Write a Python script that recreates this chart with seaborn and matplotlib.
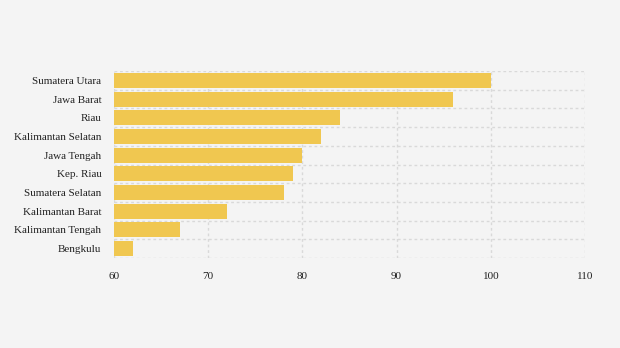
import matplotlib
matplotlib.use("Agg")
import matplotlib.pyplot as plt
import seaborn as sns
import pandas as pd
from matplotlib.ticker import FixedLocator

provinces = ["Sumatera Utara", "Jawa Barat", "Riau", "Kalimantan Selatan", "Jawa Tengah",
             "Kep. Riau", "Sumatera Selatan", "Kalimantan Barat", "Kalimantan Tengah", "Bengkulu"]
values = [100, 96, 84, 82, 80, 79, 78, 72, 67, 62]
x_ticks = [60, 70, 80, 90, 100, 110]

df = pd.DataFrame({"province": provinces, "value": values})

sns.set_theme(style="white")
plt.rcParams["font.family"] = ["Liberation Serif", "DejaVu Serif"]

bg = "#f4f4f4"
fig = plt.figure(figsize=(6.2, 3.48), dpi=100, facecolor=bg)
ax = fig.add_axes([114/620, 1 - 258/348, (585-114)/620, (258-71)/348])
ax.set_facecolor(bg)

sns.barplot(data=df, x="value", y="province", color="#f0c750", saturation=1,
            width=0.8, ax=ax, orient="h", linewidth=0, zorder=2)

ax.set_xlim(60, 110)
ax.set_ylim(len(provinces) - 0.5, -0.5)
ax.set_xticks(x_ticks)
ax.set_xticklabels([str(t) for t in x_ticks])
ax.yaxis.set_minor_locator(FixedLocator([i - 0.5 for i in range(len(provinces) + 1)]))
ax.grid(False)
ax.grid(True, axis="x", which="major", color="#d9d9d9", linestyle=(0, (2, 2)), linewidth=1, zorder=0)
ax.grid(True, axis="y", which="minor", color="#d9d9d9", linestyle=(0, (2, 2)), linewidth=1, zorder=0)
ax.set_axisbelow(True)
for s in ax.spines.values():
    s.set_visible(False)
ax.tick_params(axis="both", which="both", length=0, labelsize=8, colors="#222222")
ax.tick_params(axis="x", pad=10)
ax.tick_params(axis="y", pad=9)
ax.set_xlabel("")
ax.set_ylabel("")

fig.savefig("out.png", dpi=100, facecolor=bg)
